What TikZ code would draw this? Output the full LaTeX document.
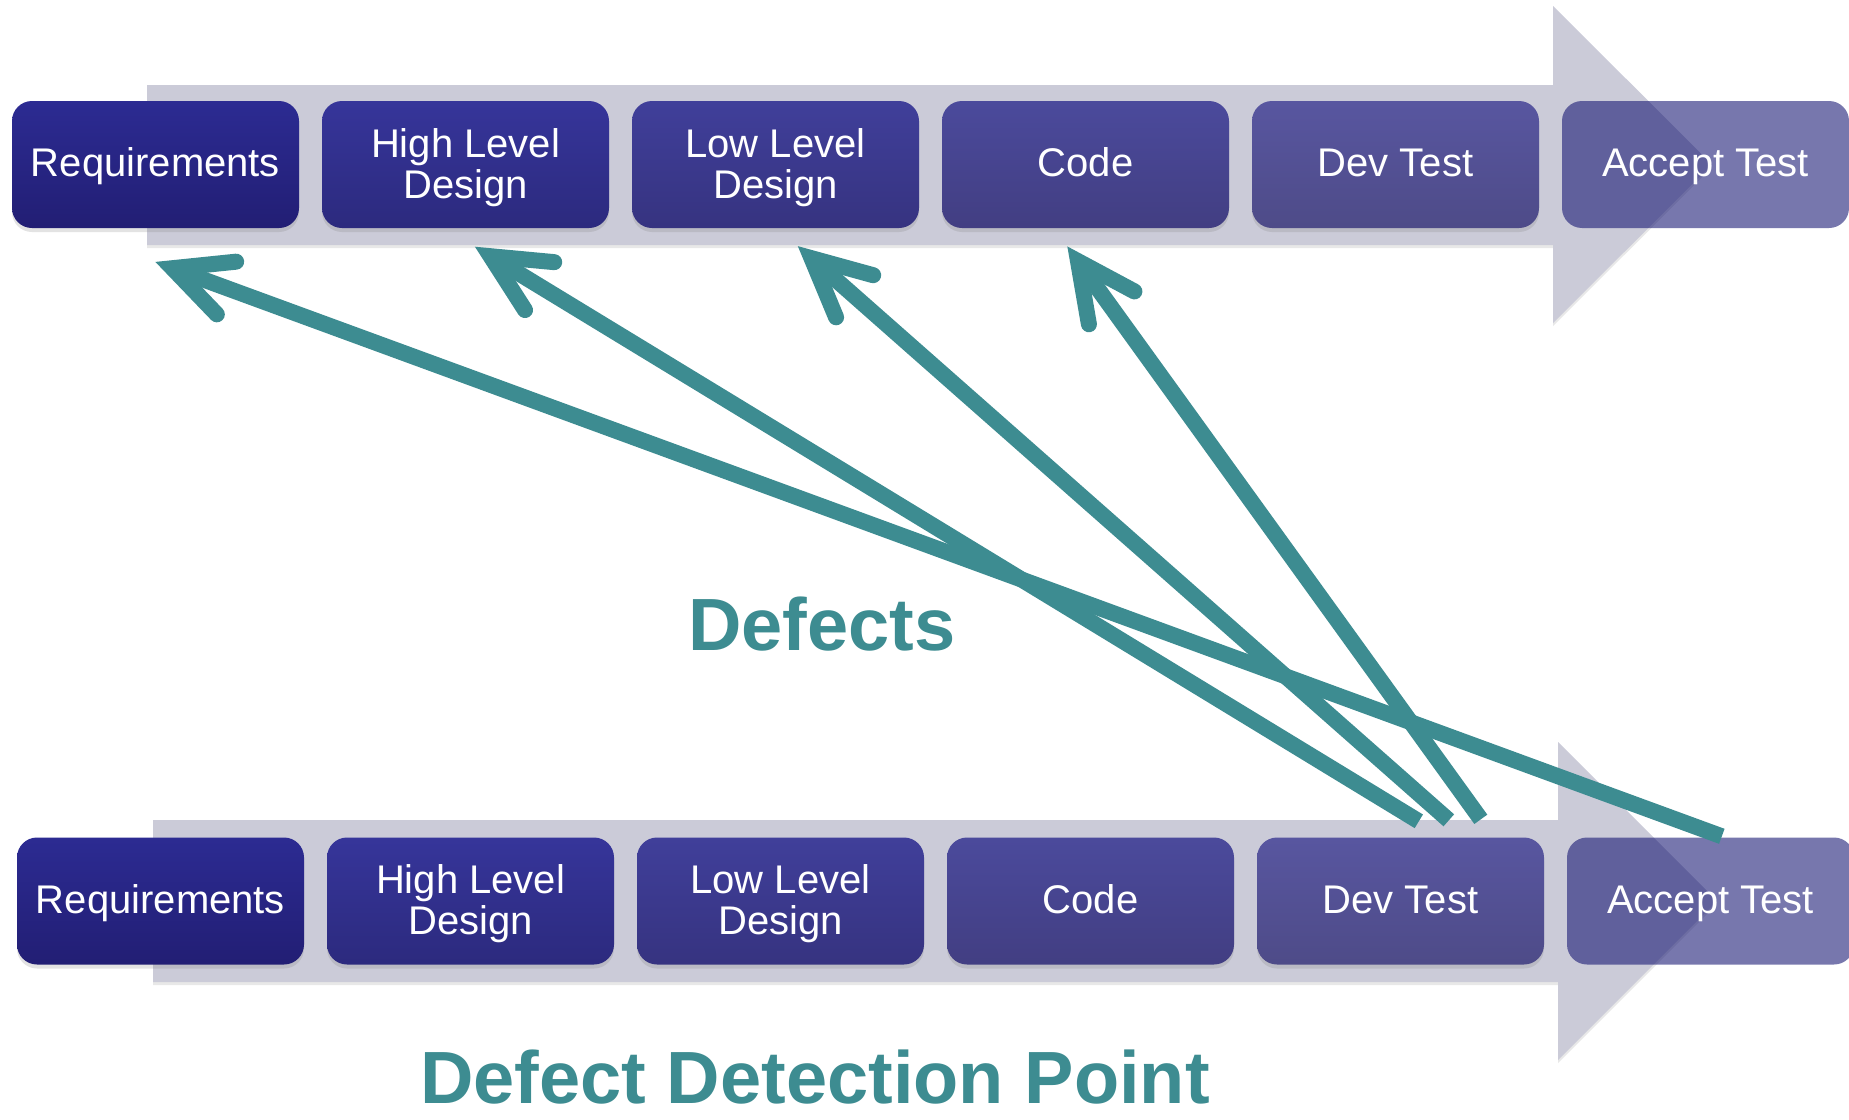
\documentclass[tikz,border=0pt]{standalone}
\usepackage{fontspec}
\setmainfont{Liberation Sans}
\usetikzlibrary{calc,shadows}
\definecolor{bandgray}{RGB}{203,203,216}
\definecolor{defteal}{RGB}{61,140,145}
\definecolor{c1t}{RGB}{44,43,146}\definecolor{c1b}{RGB}{34,30,116}
\definecolor{c2t}{RGB}{54,53,154}\definecolor{c2b}{RGB}{44,42,126}
\definecolor{c3t}{RGB}{64,63,154}\definecolor{c3b}{RGB}{54,51,128}
\definecolor{c4t}{RGB}{75,74,156}\definecolor{c4b}{RGB}{66,62,130}
\definecolor{c5t}{RGB}{88,86,160}\definecolor{c5b}{RGB}{78,75,136}
\definecolor{c6}{RGB}{9,9,107}
\newcommand{\topstrut}{\rule{0pt}{35pt}}
\begin{document}
\begin{tikzpicture}[x=1pt,y=-1pt,
  band/.style={fill=bandgray, drop shadow={shadow xshift=0pt,shadow yshift=-3pt,opacity=0.18}},
  stage/.style={rounded corners=20pt, minimum width=287pt, minimum height=127pt, inner sep=0pt,
    text=white, align=center, font=\fontsize{40}{41}\selectfont},
  shad/.style={drop shadow={shadow xshift=0pt,shadow yshift=-4pt,opacity=0.22}},
  oneline/.style={text height=24pt, text depth=0pt},
  s1/.style={stage, shad, top color=c1t, bottom color=c1b},
  s2/.style={stage, shad, top color=c2t, bottom color=c2b},
  s3/.style={stage, shad, top color=c3t, bottom color=c3b},
  s4/.style={stage, shad, top color=c4t, bottom color=c4b},
  s5/.style={stage, shad, top color=c5t, bottom color=c5b},
  s6/.style={stage, fill=c6, fill opacity=0.55, text opacity=1},
  defect/.style={draw=defteal, line width=16pt, line cap=butt},
  defecthead/.style={draw=defteal, line width=16pt, line cap=round, line join=miter},
  title/.style={text=defteal, font=\fontsize{74}{80}\selectfont\bfseries, inner sep=0pt, anchor=base}
]
\useasboundingbox (0,0) rectangle (1849,1119);
\fill[white] (0,0) rectangle (1849,1119);

% bands
\path[band] (147,85) -- (1553,85) -- (1553,6) -- (1712,164.5) -- (1553,323) -- (1553,245) -- (147,245) -- cycle;
\path[band] (153,820) -- (1558,820) -- (1558,742) -- (1717,901) -- (1558,1060) -- (1558,982) -- (153,982) -- cycle;

% top row
\node[s1,oneline] (t1) at (155.5,164.5) {Requirements};
\node[s2] (t2) at (465.5,164.5) {\topstrut High Level\\Design};
\node[s3] (t3) at (775.5,164.5) {\topstrut Low Level\\Design};
\node[s4,oneline] (t4) at (1085.5,164.5) {Code};
\node[s5,oneline] (t5) at (1395.5,164.5) {Dev Test};
\node[s6,oneline] (t6) at (1705.5,164.5) {Accept Test};

% bottom row
\node[s1,oneline] (b1) at (160.5,901) {Requirements};
\node[s2] (b2) at (470.5,901) {\topstrut High Level\\Design};
\node[s3] (b3) at (780.5,901) {\topstrut Low Level\\Design};
\node[s4,oneline] (b4) at (1090.5,901) {Code};
\node[s5,oneline] (b5) at (1400.5,901) {Dev Test};
\node[s6,oneline] (b6) at (1710.5,901) {Accept Test};

% defect arrows
\coordinate (st1) at ($(b6.north west)+(155,-1)$);
\coordinate (st2) at ($(b5.north west)+(162,-16)$);
\coordinate (st3) at ($(b5.north west)+(192,-17)$);
\coordinate (st4) at ($(b5.north west)+(224,-18)$);
\coordinate (h1) at ($(t1.south)+(17,40)$);
\coordinate (h2) at ($(t2.south)+(25,28)$);
\coordinate (h3) at ($(t3.south)+(36,30)$);
\coordinate (h4) at ($(t4.south)+(-7.5,33)$);

\foreach \i in {1,2,3,4}{
  \draw[defect] (st\i) -- (h\i);
  \draw[defecthead] ($(h\i)!64pt!26:(st\i)$) -- (h\i) -- ($(h\i)!64pt!-26:(st\i)$);
}

% titles
\node[title] (defects) at (822,650) {Defects};
\node[title] (ddp) at (815,1103) {Defect Detection Point};
\end{tikzpicture}
\end{document}
